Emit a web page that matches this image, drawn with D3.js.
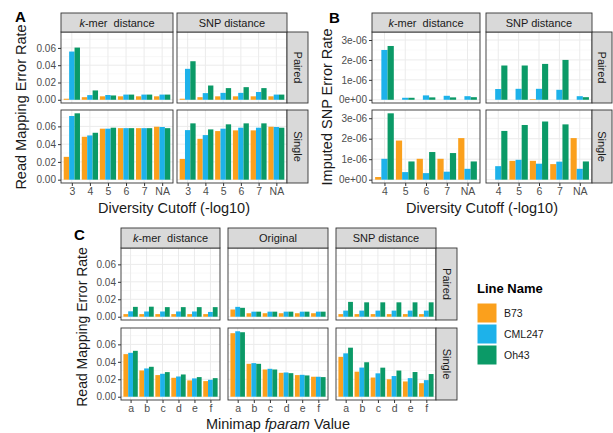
<!DOCTYPE html>
<html>
<head>
<meta charset="utf-8">
<script src="https://cdn.jsdelivr.net/npm/d3@7"></script>
<style>
body { margin: 0; background: #fff; }
text { font-family: "Liberation Sans", Arial, sans-serif; }
</style>
</head>
<body>
<div id="vis"></div>
<script>
// lines and categories
var lineNames = ["B73", "CML247", "Oh43"];
var lineColors = ["#FBA01C", "#1DB2EA", "#0B9A67"];
var cutoffsA = ["3", "4", "5", "6", "7", "NA"];
var cutoffsB = ["4", "5", "6", "7", "NA"];
var fparams = ["a", "b", "c", "d", "e", "f"];
var modes = ["Paired", "Single"];

// panel A: read mapping error rate, one array per line (B73, CML247, Oh43)
var aPairedKmer = [[0.0012, 0.003, 0.004, 0.004, 0.004, 0.004],
                   [0.0558, 0.0054, 0.0055, 0.006, 0.006, 0.006],
                   [0.0604, 0.0108, 0.005, 0.006, 0.006, 0.006]];
var aPairedSnp = [[0.0012, 0.003, 0.004, 0.004, 0.004, 0.004],
                  [0.0358, 0.0077, 0.008, 0.008, 0.009, 0.006],
                  [0.0446, 0.0165, 0.0135, 0.0146, 0.0135, 0.006]];
var aSingleKmer = [[0.0257, 0.0483, 0.0574, 0.058, 0.058, 0.0596],
                   [0.0717, 0.0498, 0.0574, 0.058, 0.058, 0.0593],
                   [0.0747, 0.0528, 0.0585, 0.058, 0.058, 0.058]];
var aSingleSnp = [[0.0234, 0.046, 0.0547, 0.0555, 0.0555, 0.0596],
                  [0.0558, 0.0502, 0.0574, 0.0585, 0.0585, 0.0593],
                  [0.0634, 0.0566, 0.0623, 0.0634, 0.0634, 0.0585]];

// panel B: imputed SNP error rate
var bPairedKmer = [[0, 0, 0, 0, 0],
                   [2.5e-6, 0.1e-6, 0.22e-6, 0.2e-6, 0.18e-6],
                   [2.7e-6, 0.1e-6, 0.12e-6, 0.12e-6, 0.13e-6]];
var bPairedSnp = [[0, 0, 0.03e-6, 0, 0],
                  [0.54e-6, 0.55e-6, 0.55e-6, 0.5e-6, 0.18e-6],
                  [1.72e-6, 1.72e-6, 1.8e-6, 2.0e-6, 0.13e-6]];
var bSingleKmer = [[0.13e-6, 1.91e-6, 1.02e-6, 1.02e-6, 2.03e-6],
                   [1.02e-6, 0.37e-6, 0.32e-6, 0.39e-6, 0.53e-6],
                   [3.24e-6, 0.89e-6, 1.35e-6, 1.3e-6, 0.89e-6]];
var bSingleSnp = [[0, 0.92e-6, 0.92e-6, 0.76e-6, 2.03e-6],
                  [0.66e-6, 0.97e-6, 0.78e-6, 0.88e-6, 0.53e-6],
                  [2.38e-6, 2.67e-6, 2.84e-6, 2.7e-6, 0.89e-6]];

// panel C: read mapping error rate by minimap fparam
var cPairedKmer = [[0.003, 0.003, 0.003, 0.003, 0.003, 0.003],
                   [0.0062, 0.006, 0.006, 0.006, 0.006, 0.0055],
                   [0.0113, 0.0115, 0.011, 0.011, 0.011, 0.011]];
var cPairedOrig = [[0.0083, 0.004, 0.004, 0.004, 0.004, 0.004],
                   [0.0113, 0.0058, 0.0058, 0.0058, 0.0058, 0.0058],
                   [0.0102, 0.0058, 0.0058, 0.0058, 0.0058, 0.0058]];
var cPairedSnp = [[0.003, 0.003, 0.003, 0.003, 0.003, 0.003],
                  [0.007, 0.007, 0.007, 0.007, 0.007, 0.007],
                  [0.017, 0.0165, 0.0165, 0.0165, 0.0165, 0.0165]];
var cSingleKmer = [[0.0488, 0.0301, 0.0248, 0.0217, 0.0187, 0.0179],
                   [0.0503, 0.0324, 0.0263, 0.0232, 0.021, 0.0194],
                   [0.0526, 0.0343, 0.0282, 0.0255, 0.0225, 0.0213]];
var cSingleOrig = [[0.0728, 0.0377, 0.0312, 0.0274, 0.0248, 0.0229],
                   [0.075, 0.0385, 0.032, 0.0278, 0.0251, 0.0229],
                   [0.0739, 0.0377, 0.0312, 0.027, 0.0244, 0.0225]];
var cSingleSnp = [[0.0457, 0.0287, 0.022, 0.02, 0.0175, 0.0155],
                  [0.0497, 0.0334, 0.0268, 0.0237, 0.0213, 0.019],
                  [0.0562, 0.0395, 0.0333, 0.03, 0.0283, 0.026]];

var rateTicks = [0, 0.02, 0.04, 0.06];
var rateMinor = [0.01, 0.03, 0.05, 0.07];
var snpTicks = [0, 1e-6, 2e-6, 3e-6];
var snpMinor = [0.5e-6, 1.5e-6, 2.5e-6];

var color = d3.scaleOrdinal().domain(lineNames).range(lineColors);

var svg = d3.select("#vis").append("svg")
    .attr("width", 613)
    .attr("height", 433);

// ggplot-like exponent labels: 3e-06, 0e+00
function sciFormat(v) {
  return d3.format(".0e")(v).replace(/e([+-])(\d)$/, "e$10$2");
}

// strip label, with optional italic prefix
function stripText(sel, label) {
  var t = sel.append("text")
      .attr("text-anchor", "middle")
      .attr("font-size", "11px")
      .attr("fill", "#1A1A1A")
      .style("white-space", "pre");
  if (label[0]) t.append("tspan").style("font-style", "italic").text(label[0]);
  t.append("tspan").text(label[1]);
  return t;
}

function drawGrid(cfg) {
  var all = [];
  cfg.data.forEach(function(row) { row.forEach(function(p) { p.forEach(function(a) { all = all.concat(a); }); }); });
  var ymax = d3.max(all);
  var nr = cfg.rows.length;
  var lastCol = cfg.cols[cfg.cols.length - 1];

  cfg.rows.forEach(function(r, ri) {
    var y = d3.scaleLinear().domain([-ymax * 0.05, ymax * 1.05]).range([r[1], r[0]]);

    cfg.cols.forEach(function(c, ci) {
      var x = d3.scalePoint().domain(cfg.cats).range([c[0], c[1]]).padding(0.6);
      var inner = d3.scaleBand().domain(lineNames).range([-0.45 * x.step(), 0.45 * x.step()]);
      var p = svg.append("g");

      p.append("rect")
          .attr("x", c[0]).attr("y", r[0])
          .attr("width", c[1] - c[0]).attr("height", r[1] - r[0])
          .attr("fill", "#fff");

      // grid lines
      p.selectAll(".minor").data(cfg.minor).enter().append("line")
          .attr("x1", c[0]).attr("x2", c[1])
          .attr("y1", function(d) { return y(d); }).attr("y2", function(d) { return y(d); })
          .attr("stroke", "#F4F4F4").attr("stroke-width", 0.6);
      p.selectAll(".major").data(cfg.ticks).enter().append("line")
          .attr("x1", c[0]).attr("x2", c[1])
          .attr("y1", function(d) { return y(d); }).attr("y2", function(d) { return y(d); })
          .attr("stroke", "#EBEBEB").attr("stroke-width", 1);
      p.selectAll(".vmajor").data(cfg.cats).enter().append("line")
          .attr("x1", function(d) { return x(d); }).attr("x2", function(d) { return x(d); })
          .attr("y1", r[0]).attr("y2", r[1])
          .attr("stroke", "#EBEBEB").attr("stroke-width", 1);

      // bars
      var flat = [];
      cfg.data[ri][ci].forEach(function(arr, li) {
        arr.forEach(function(v, k) { flat.push({line: lineNames[li], cat: cfg.cats[k], v: v}); });
      });
      p.selectAll(".bar").data(flat).enter().append("rect")
          .attr("x", function(d) { return x(d.cat) + inner(d.line); })
          .attr("width", inner.bandwidth())
          .attr("y", function(d) { return y(d.v); })
          .attr("height", function(d) { return y(0) - y(d.v); })
          .attr("fill", function(d) { return color(d.line); });

      p.append("rect")
          .attr("x", c[0]).attr("y", r[0])
          .attr("width", c[1] - c[0]).attr("height", r[1] - r[0])
          .attr("fill", "none").attr("stroke", "#333").attr("stroke-width", 0.9);

      // y axis on the first column
      if (ci === 0) {
        var ay = p.append("g")
            .attr("transform", "translate(" + c[0] + ",0)")
            .call(d3.axisLeft(y).tickValues(cfg.ticks).tickSize(3).tickPadding(2).tickFormat(cfg.fmt));
        ay.select(".domain").remove();
        ay.selectAll("line").attr("stroke", "#333");
        ay.selectAll("text").attr("fill", "#4D4D4D").attr("font-size", "10px");
      }
      // x axis on the last row
      if (ri === nr - 1) {
        var ax = p.append("g")
            .attr("transform", "translate(0," + r[1] + ")")
            .call(d3.axisBottom(x).tickSize(3).tickPadding(2));
        ax.select(".domain").remove();
        ax.selectAll("line").attr("stroke", "#333");
        ax.selectAll("text").attr("fill", "#4D4D4D").attr("font-size", "10.5px");
      }
    });

    // right strip
    var rs = svg.append("g");
    rs.append("rect")
        .attr("x", lastCol[1]).attr("y", r[0])
        .attr("width", cfg.stripW).attr("height", r[1] - r[0])
        .attr("fill", "#D9D9D9").attr("stroke", "#333").attr("stroke-width", 0.9);
    stripText(rs, [null, modes[ri]])
        .attr("transform", "translate(" + (lastCol[1] + cfg.stripW / 2 - 3.8) + "," + ((r[0] + r[1]) / 2) + ") rotate(90)");
  });

  // top strips
  cfg.cols.forEach(function(c, ci) {
    var ts = svg.append("g");
    ts.append("rect")
        .attr("x", c[0]).attr("y", cfg.strip[0])
        .attr("width", c[1] - c[0]).attr("height", cfg.strip[1] - cfg.strip[0])
        .attr("fill", "#D9D9D9").attr("stroke", "#333").attr("stroke-width", 0.9);
    stripText(ts, cfg.colLabels[ci])
        .attr("x", (c[0] + c[1]) / 2)
        .attr("y", (cfg.strip[0] + cfg.strip[1]) / 2 + 4);
  });
}

var kmerLabel = ["k", "-mer  distance"];
var snpLabel = [null, "SNP distance"];
var origLabel = [null, "Original"];

// A
drawGrid({
  cols: [[61, 173], [177, 287]], rows: [[32, 103], [110, 183]],
  strip: [13, 32], stripW: 21,
  colLabels: [kmerLabel, snpLabel], cats: cutoffsA,
  data: [[aPairedKmer, aPairedSnp], [aSingleKmer, aSingleSnp]],
  ticks: rateTicks, minor: rateMinor, fmt: d3.format(".2f")
});
// B
drawGrid({
  cols: [[372, 480], [486, 592]], rows: [[32, 103], [110, 183]],
  strip: [13, 32], stripW: 20,
  colLabels: [kmerLabel, snpLabel], cats: cutoffsB,
  data: [[bPairedKmer, bPairedSnp], [bSingleKmer, bSingleSnp]],
  ticks: snpTicks, minor: snpMinor, fmt: sciFormat
});
// C
drawGrid({
  cols: [[121, 220], [228, 328], [336, 436]], rows: [[248, 320], [328, 400]],
  strip: [228, 248], stripW: 21,
  colLabels: [kmerLabel, origLabel, snpLabel], cats: fparams,
  data: [[cPairedKmer, cPairedOrig, cPairedSnp], [cSingleKmer, cSingleOrig, cSingleSnp]],
  ticks: rateTicks, minor: rateMinor, fmt: d3.format(".2f")
});

// panel letters
[["A", 15, 22], ["B", 329, 23], ["C", 74, 240]].forEach(function(d) {
  svg.append("text").attr("x", d[1]).attr("y", d[2])
      .attr("font-size", "15px").attr("font-weight", "bold").text(d[0]);
});

// axis titles
function yTitle(txt, x, y, size) {
  svg.append("text")
      .attr("transform", "translate(" + x + "," + y + ") rotate(-90)")
      .attr("text-anchor", "middle").attr("font-size", size).attr("fill", "#1A1A1A")
      .text(txt);
}
yTitle("Read Mapping Error Rate", 26, 107, "14.5px");
yTitle("Imputed SNP Error Rate", 332, 107, "14.5px");
yTitle("Read Mapping Error Rate", 87, 327, "14px");

svg.append("text").attr("x", 174).attr("y", 213).attr("text-anchor", "middle")
    .attr("font-size", "14.5px").attr("fill", "#1A1A1A").text("Diversity Cutoff (-log10)");
svg.append("text").attr("x", 482).attr("y", 213).attr("text-anchor", "middle")
    .attr("font-size", "14.5px").attr("fill", "#1A1A1A").text("Diversity Cutoff (-log10)");
var xc = svg.append("text").attr("x", 278).attr("y", 429).attr("text-anchor", "middle")
    .attr("font-size", "14.5px").attr("fill", "#1A1A1A");
xc.append("tspan").text("Minimap ");
xc.append("tspan").style("font-style", "italic").text("fparam");
xc.append("tspan").text(" Value");

// legend
var legend = svg.append("g").attr("transform", "translate(477,0)");
legend.append("text").attr("x", 0).attr("y", 293)
    .attr("font-size", "13px").attr("font-weight", "bold").text("Line Name");
legend.selectAll(".key").data(lineNames).enter().append("rect")
    .attr("x", 0).attr("y", function(d, i) { return 303 + i * 21; })
    .attr("width", 20).attr("height", 20)
    .attr("fill", function(d) { return color(d); })
    .attr("stroke", "#fff").attr("stroke-width", 1);
legend.selectAll(".lab").data(lineNames).enter().append("text")
    .attr("x", 27).attr("y", function(d, i) { return 317 + i * 21; })
    .attr("font-size", "10.5px").attr("fill", "#1A1A1A")
    .text(function(d) { return d; });
</script>
</body>
</html>
